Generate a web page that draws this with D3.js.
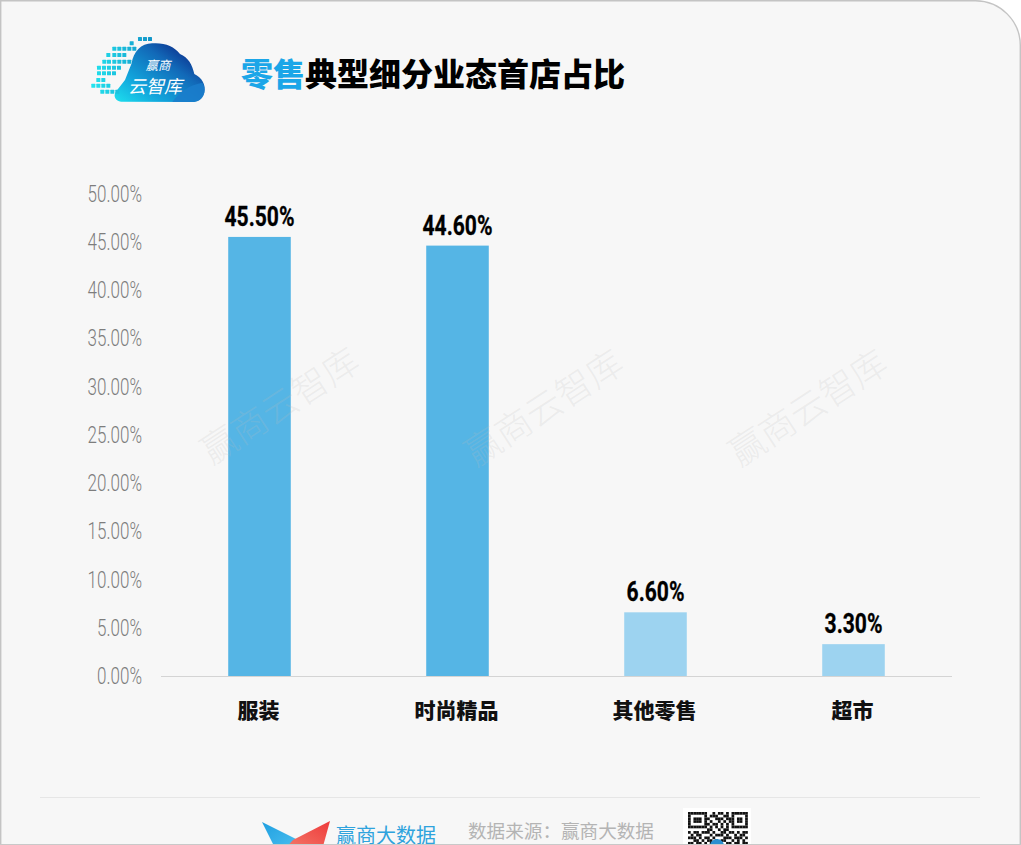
<!DOCTYPE html>
<html lang="zh"><head><meta charset="utf-8">
<script src="https://cdn.jsdelivr.net/npm/d3@7/dist/d3.min.js"></script>
<style>html,body{margin:0;padding:0;background:#fff;overflow:hidden}svg{display:block}</style>
</head><body><svg id="c" width="1021" height="845"></svg>
<script>
const categories = ["服装","时尚精品","其他零售","超市"];
const shareValues = [45.5,44.6,6.6,3.3];
const yTickValues = [0,5,10,15,20,25,30,35,40,45,50];
const titleAccent = "零售";
const titleRest = "典型细分业态首店占比";
const watermarkText = "赢商云智库";
const watermarkCentres = [280,544,808];
const sourceText = "数据来源\uFF1A赢商大数据";
const brandText = "赢商大数据";
const logoLine1 = "赢商";
const logoLine2 = "云智库";

const svg = d3.select("#c");
const CJK = "'Noto Sans CJK SC','Noto Sans',sans-serif";
const NUM = "'Roboto','Liberation Sans',sans-serif";
const defs = svg.append("defs");

// card: square left corners, rounded top right
svg.append("path").attr("d","M0.7,845 L0.7,0.7 L975,0.7 A45,45 0 0 1 1020.3,46 L1020.3,845 Z")
  .attr("fill","#f7f7f7").attr("stroke","#c4c4c4").attr("stroke-width",1.4);

// logo
const lg = defs.append("linearGradient").attr("id","lg").attr("x1","0").attr("y1","1").attr("x2","1").attr("y2","0.1");
[["0","#1ee0ee"],["0.3","#12a5dc"],["0.66","#1269b8"],["0.92","#0b2a88"],["1","#0a2480"]].forEach(s=>lg.append("stop").attr("offset",s[0]).attr("stop-color",s[1]));
const logo = svg.append("g").attr("transform","translate(85,30) scale(0.3333)");
logo.append("path").attr("fill","url(#lg)")
 .attr("d","M108,215 C92,212 84,200 92,186 L120,150 L140,100 C145,65 170,38 205,40 C240,38 268,50 285,72 C310,82 322,105 328,132 C350,142 364,165 358,188 C352,208 338,216 322,216 Z");
logo.append("path").attr("fill","#1b7ccb").attr("opacity",0.85)
 .attr("d","M262,216 C280,190 310,165 352,158 C364,175 360,200 342,211 C335,215 328,216 322,216 Z");
const pixelRows = [
 [27,[165,180,195]],[40,[140]],[56,[88,103,118,133,148]],[75,[70,88,103,118]],
 [95,[58,72,88,103,118,133]],[113,[42,57,72,87,102]],[130,[42,57,72,87]],
 [150,[40,55]],[167,[25,40,55,70]],[185,[52,67,82,97]]];
const pixColor = d3.scaleLinear().domain([25,200]).range(["#22e3ee","#1294c8"]);
pixelRows.forEach(r=>logo.selectAll(null).data(r[1]).join("rect")
  .attr("x",d=>d-6).attr("y",r[0]-6).attr("width",12).attr("height",12).attr("rx",1.5).attr("fill",d=>pixColor(d)));
svg.append("text").attr("x",158).attr("y",70).attr("text-anchor","middle").attr("font-family",CJK)
  .attr("font-size",12.5).attr("font-style","italic").attr("fill","#fff").text(logoLine1);
svg.append("text").attr("x",155).attr("y",93).attr("text-anchor","middle").attr("font-family",CJK)
  .attr("font-size",18).attr("font-style","italic").attr("fill","#fff").text(logoLine2);

// title
const t = svg.append("text").attr("x",241).attr("y",86).attr("font-family",CJK).attr("font-size",32).attr("font-weight",900);
t.append("tspan").attr("fill","#1ba6e8").text(titleAccent);
t.append("tspan").attr("fill","#000").text(titleRest);

// scales
const x = d3.scaleBand().domain(categories).range([160.5,952.5]).paddingInner(0.684).paddingOuter(0.342);
const y = d3.scaleLinear().domain([0,50]).range([676,193.5]);

// y labels
const yAxis = d3.axisLeft(y).tickValues(yTickValues).tickSize(0).tickPadding(0).tickFormat(d=>d.toFixed(2)+"%");
const yg = svg.append("g").attr("transform","translate(142,0)").call(yAxis);
yg.select(".domain").remove();
yg.selectAll("text").attr("x",0).attr("dy",null).attr("y",0)
  .attr("text-anchor","end").attr("font-family",NUM).attr("font-weight",300).attr("font-size",23).attr("fill","#7d7d7d")
  .attr("transform","translate(0,7.5) scale(0.74,1)");

// bars
svg.selectAll("rect.bar").data(shareValues).join("rect").attr("class","bar")
  .attr("x",(d,i)=>x(categories[i])).attr("width",x.bandwidth())
  .attr("y",d=>y(d)).attr("height",d=>y(0)-y(d))
  .attr("fill",(d,i)=>i<2?"#55b5e5":"#9dd3f0");

// baseline
svg.append("line").attr("x1",161).attr("x2",952).attr("y1",676.5).attr("y2",676.5).attr("stroke","#d4d4d4").attr("stroke-width",1);

// value labels
svg.selectAll("text.val").data(shareValues).join("text").attr("class","val")
  .attr("transform",(d,i)=>`translate(${x(categories[i])+x.bandwidth()/2},${y(d)-11}) scale(0.78,1)`)
  .attr("text-anchor","middle").attr("font-family",NUM).attr("font-weight",700).attr("font-size",27).attr("fill","#000")
  .attr("stroke","#000").attr("stroke-width",0.3).text(d=>d.toFixed(2)+"%");

// x labels
const xg = svg.append("g").attr("transform","translate(-1,718)").call(d3.axisBottom(x).tickSize(0).tickPadding(0));
xg.select(".domain").remove();
xg.selectAll("text").attr("y",0).attr("dy",null).attr("font-family",CJK).attr("font-weight",900).attr("font-size",21).attr("fill","#111");

// watermark
svg.selectAll("text.wm").data(watermarkCentres).join("text").attr("class","wm")
  .attr("transform",d=>`translate(${d},${d===280?406:408}) rotate(-33)`)
  .attr("text-anchor","middle").attr("dy","0.35em").attr("font-family",CJK).attr("font-weight",300).attr("font-size",36)
  .attr("fill","#bdbdbd").attr("fill-opacity",0.2).text(watermarkText);

// footer
svg.append("line").attr("x1",40).attr("x2",980).attr("y1",797.5).attr("y2",797.5).attr("stroke","#e6e6e6");
const ml = defs.append("linearGradient").attr("id","mb").attr("x1","0").attr("y1","0").attr("x2","1").attr("y2","1");
ml.append("stop").attr("offset","0").attr("stop-color","#1f9fe0"); ml.append("stop").attr("offset","1").attr("stop-color","#4cc0f0");
const mr = defs.append("linearGradient").attr("id","mr").attr("x1","1").attr("y1","0").attr("x2","0").attr("y2","1");
mr.append("stop").attr("offset","0").attr("stop-color","#ee3a3a"); mr.append("stop").attr("offset","1").attr("stop-color","#f47c6c");
svg.append("path").attr("fill","url(#mb)").attr("d","M262,822 L298,840 L292,850 L276,850 Z");
svg.append("path").attr("fill","url(#mr)").attr("d","M330,821 L322,850 L284,850 L293,840 Z");
svg.append("text").attr("x",336).attr("y",843).attr("font-family",CJK).attr("font-size",20).attr("fill","#2fa3dd").text(brandText);
svg.append("text").attr("x",468).attr("y",838).attr("font-family",CJK).attr("font-size",18.6).attr("fill","#b4b4b4").text(sourceText);

// QR
svg.append("rect").attr("x",683).attr("y",808).attr("width",68).attr("height",40).attr("fill","#fff");
const qrRows = ["1111111001011010111111","1000001011100110100001","1011101100111011101101","1011101010010101101101","1000001101101010100001","1111111010101010111111","0000000110010110000000","1011011101001101101011","0101100010111010010110","1110101101000111011101","0011010110101100101010","1101101011010011011011","0110011100100110110100","1011100011110001101101"];
const q = svg.append("g");
qrRows.forEach((r,ri)=>q.selectAll(null).data(r.split("").map((c,ci)=>({c,ci})).filter(d=>d.c==="1")).join("rect")
  .attr("x",d=>688+d.ci*2.72).attr("y",812+ri*2.72).attr("width",2.72).attr("height",2.72).attr("fill","#111"));
svg.append("circle").attr("cx",717).attr("cy",846).attr("r",7).attr("fill","#2b8fd0");

svg.append("line").attr("x1",0).attr("x2",1021).attr("y1",844.5).attr("y2",844.5).attr("stroke","#c9c9c9");
</script></body></html>
